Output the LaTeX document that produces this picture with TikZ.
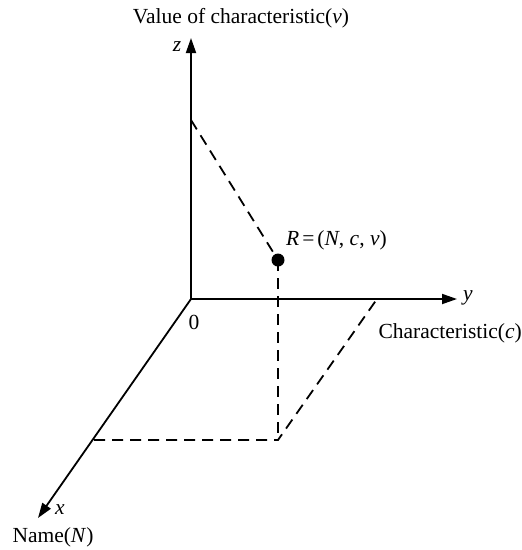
\documentclass[tikz,border=0pt]{standalone}
\usepackage{fontspec}
\setmainfont{Liberation Serif}
\usetikzlibrary{arrows.meta}
\begin{document}
\begin{tikzpicture}[x=1pt,y=-1pt,
  axis/.style={line width=1.8pt,-{Triangle[length=15pt,width=10pt]}},
  guide/.style={line width=1.8pt,dash pattern=on 11pt off 7pt},
  lbl/.style={inner sep=0pt,font=\fontsize{21.5}{25}\selectfont}]
\useasboundingbox (0,0) rectangle (522,550);
\coordinate (O) at (191,299);
\coordinate (Z) at (191,38);
\coordinate (Y) at (457,299);
\coordinate (X) at (38,518);
\coordinate (Zi) at (191,120);
\coordinate (R) at (278,260);
\coordinate (Rb) at (278,440);
\coordinate (Xp) at (94,440);
\coordinate (Yp) at (377,299);
\draw[axis] (O) -- (Z);
\draw[axis] (O) -- (Y);
\draw[axis] (O) -- (X);
\draw[guide] (Zi) -- (R);
\draw[guide] (R) -- (Rb);
\draw[guide] (Xp) -- (Rb) -- (Yp);
\fill (R) circle (6.5pt);
\node[lbl] (tz) at (241,18) {Value of characteristic(\textit{v})};
\node[lbl] (lz) at (177,47) {\textit{z}};
\node[lbl,anchor=west] (lr) at (286,240) {\textit{R}\hspace{3pt}=\hspace{3pt}(\textit{N}, \textit{c}, \textit{v})};
\node[lbl] (l0) at (194,322) {0};
\node[lbl] (ly) at (468,298) {\textit{y}};
\node[lbl,anchor=east] (ty) at (522,333) {Characteristic(\textit{c})};
\node[lbl] (lx) at (60,510) {\textit{x}};
\node[lbl] (tx) at (53,537) {Name(\textit{N})};
\end{tikzpicture}
\end{document}
